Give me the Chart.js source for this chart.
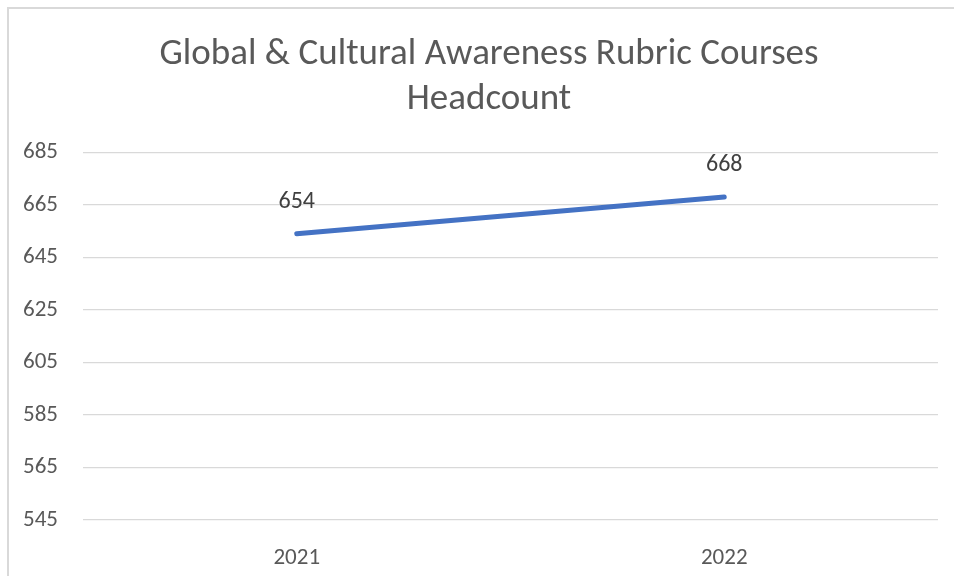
<!DOCTYPE html>
<html lang="en">
<head>
    <meta charset="UTF-8">
    <title>Global & Cultural Awareness Rubric Courses Headcount</title>
    <script src="https://cdn.jsdelivr.net/npm/chart.js"></script>
    <style>
        html, body { margin: 0; padding: 0; background: #fff; overflow: hidden; }
        .frame {
            position: absolute; left: 7px; top: 7px;
            width: 962px; height: 569px;
            border-left: 2px solid #d9d9d9; border-top: 2px solid #d9d9d9;
            box-sizing: border-box;
        }
        canvas { position: absolute; left: 0; top: 0; }
    </style>
</head>
<body>
    <div class="frame">
        <canvas id="lineChart" width="960" height="567"></canvas>
    </div>

    <script>
        const years = ['2021', '2022'];
        const headcount = [654, 668];
        const yMin = 545, yMax = 685, yStep = 20;

        const FONT = 'Carlito, Lato, "Liberation Sans", sans-serif';
        const GREY = '#595959';

        // value labels above each point
        const valueLabels = {
            id: 'valueLabels',
            afterDatasetsDraw(chart) {
                const ctx = chart.ctx;
                const meta = chart.getDatasetMeta(0);
                ctx.save();
                ctx.font = '24px ' + FONT;
                ctx.fillStyle = '#404040';
                ctx.textAlign = 'center';
                ctx.textBaseline = 'middle';
                meta.data.forEach((pt, i) => {
                    ctx.fillText(String(headcount[i]), pt.x, pt.y - 32);
                });
                ctx.restore();
            }
        };

        const ctx = document.getElementById('lineChart').getContext('2d');
        new Chart(ctx, {
            type: 'line',
            data: {
                labels: years,
                datasets: [{
                    data: headcount,
                    borderColor: '#4472C4',
                    borderWidth: 5,
                    borderCapStyle: 'round',
                    pointRadius: 0,
                    tension: 0
                }]
            },
            options: {
                responsive: false,
                animation: false,
                layout: { padding: 0 },
                plugins: {
                    legend: { display: false },
                    tooltip: { enabled: false },
                    title: {
                        display: true,
                        text: ['Global & Cultural Awareness Rubric Courses', 'Headcount'],
                        color: GREY,
                        font: { family: FONT, size: 37, weight: 'normal', lineHeight: 1.22 },
                        padding: { top: 23, bottom: 30 }
                    }
                },
                scales: {
                    x: {
                        offset: true,
                        grid: { display: false },
                        border: { display: false },
                        ticks: { color: GREY, font: { family: FONT, size: 23 }, padding: 16 },
                        afterFit(s) { s.height = 56; }
                    },
                    y: {
                        min: yMin,
                        max: yMax,
                        ticks: { stepSize: yStep, color: GREY, font: { family: FONT, size: 23 }, padding: 25 },
                        grid: { color: '#d9d9d9', lineWidth: 1.3, drawTicks: false },
                        border: { display: false },
                        afterFit(s) { s.width = 74; }
                    },
                    yRight: {
                        position: 'right',
                        display: true,
                        grid: { display: false },
                        border: { display: false },
                        ticks: { display: false },
                        afterFit(s) { s.width = 31; }
                    }
                }
            },
            plugins: [valueLabels]
        });
    </script>
</body>
</html>
